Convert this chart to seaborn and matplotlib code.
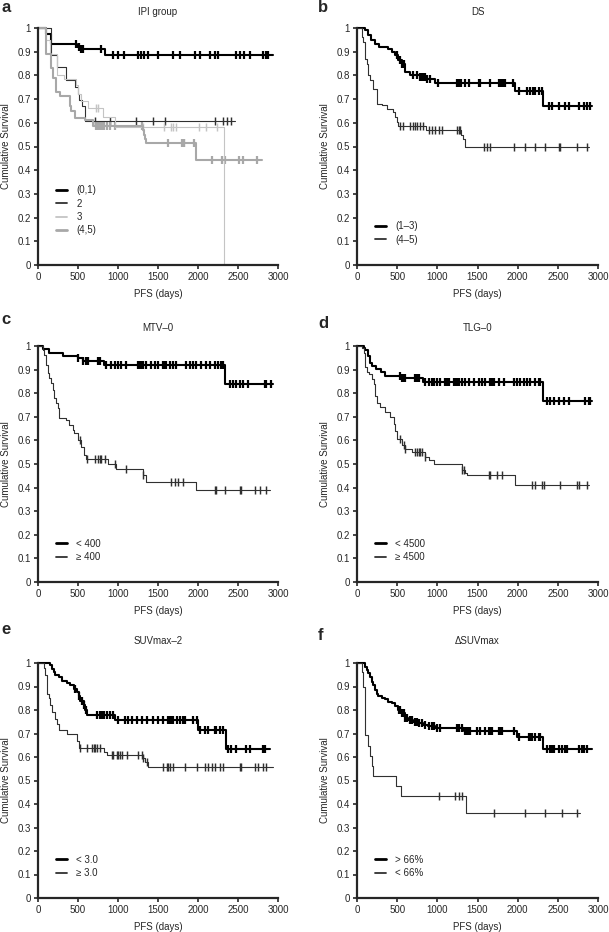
import numpy as np
import pandas as pd
import matplotlib
matplotlib.use("Agg")
import matplotlib.pyplot as plt
from matplotlib.lines import Line2D
import seaborn as sns

# ---- data (days, cumulative survival, censor times) ----
# a: IPI group
a1_t = [0, 105, 162, 490, 537, 840, 2940]
a1_s = [1.0, 0.975, 0.932, 0.92, 0.91, 0.884, 0.884]
a1_c = [480, 510, 540, 560, 790, 940, 1000, 1080, 1250, 1290, 1330, 1375, 1500, 1690, 1770,
        1960, 2020, 2150, 2210, 2250, 2480, 2520, 2580, 2650, 2810, 2850, 2880]
a2_t = [0, 165, 233, 345, 467, 500, 517, 545, 592, 2460]
a2_s = [1.0, 0.886, 0.835, 0.78, 0.75, 0.72, 0.696, 0.67, 0.607, 0.607]
a2_c = [710, 900, 1230, 1433, 1587, 2212, 2317, 2367, 2408]
a3_t = [0, 100, 150, 240, 330, 470, 500, 540, 625, 812, 958, 2330]
a3_s = [1.0, 0.95, 0.89, 0.80, 0.785, 0.76, 0.72, 0.69, 0.662, 0.624, 0.582, 0.0]
a3_c = [729, 750, 1310, 1575, 1658, 1692, 1725, 2017, 2100, 2233]
a4_t = [0, 104, 167, 188, 229, 271, 396, 417, 458, 583, 688, 1312, 1325, 1338, 1354, 1975, 2796]
a4_s = [1.0, 0.89, 0.83, 0.79, 0.73, 0.715, 0.67, 0.65, 0.62, 0.61, 0.587, 0.57, 0.55, 0.53,
        0.516, 0.443, 0.443]
a4_c = [729, 750, 770, 800, 830, 860, 900, 958, 1300, 1629, 1800, 1810, 1820, 1830, 1950,
        2171, 2296, 2337, 2517, 2558, 2742]

# b: DS
b1_t = [0, 104, 141, 175, 220, 280, 390, 430, 475, 515, 555, 600, 660, 785, 870, 975, 1970,
        2311, 2925]
b1_s = [1.0, 0.99, 0.969, 0.95, 0.934, 0.92, 0.913, 0.899, 0.885, 0.864, 0.85, 0.814, 0.80,
        0.793, 0.783, 0.769, 0.734, 0.671, 0.671]
b1_c = [494, 535, 556, 577, 590, 701, 742, 790, 810, 830, 850, 870, 908, 1012, 1245, 1265, 1290,
        1349, 1390, 1514, 1531, 1660, 1763, 1790, 1820, 1846, 1940, 2012, 2116, 2150, 2185, 2220,
        2261, 2303, 2386, 2427, 2510, 2593, 2635, 2759, 2821, 2863, 2904]
b2_t = [0, 58, 75, 100, 120, 141, 162, 203, 245, 307, 369, 452, 473, 494, 515, 860, 1290, 1323,
        1350, 2884]
b2_s = [1.0, 0.96, 0.94, 0.87, 0.85, 0.80, 0.78, 0.744, 0.68, 0.675, 0.657, 0.645, 0.624, 0.603,
        0.586, 0.568, 0.55, 0.53, 0.498, 0.498]
b2_c = [540, 577, 660, 701, 725, 750, 784, 826, 892, 934, 975, 1016, 1058, 1245, 1265, 1286, 1577,
        1618, 1660, 1950, 2095, 2220, 2344, 2510, 2531, 2738, 2863]

# c: MTV-0
c1_t = [0, 58, 142, 308, 496, 558, 829, 2333, 2937]
c1_s = [1.0, 0.986, 0.972, 0.958, 0.948, 0.938, 0.92, 0.839, 0.839]
c1_c = [500, 562, 604, 625, 750, 771, 854, 917, 958, 1000, 1042, 1104, 1250, 1270, 1290, 1312,
        1354, 1417, 1458, 1500, 1562, 1583, 1604, 1646, 1688, 1729, 1854, 1896, 1937, 1979, 2042,
        2104, 2146, 2208, 2250, 2292, 2312, 2396, 2437, 2479, 2521, 2563, 2625, 2833, 2854, 2917]
c2_t = [0, 62, 79, 100, 121, 142, 162, 183, 204, 225, 246, 267, 350, 392, 433, 454, 496, 537,
        579, 600, 880, 975, 1308, 1350, 1979, 2896]
c2_s = [1.0, 0.985, 0.96, 0.92, 0.884, 0.863, 0.842, 0.814, 0.778, 0.757, 0.736, 0.693, 0.686,
        0.665, 0.644, 0.63, 0.602, 0.573, 0.538, 0.52, 0.50, 0.477, 0.455, 0.424, 0.388, 0.388]
c2_c = [521, 612, 708, 750, 771, 792, 833, 958, 1104, 1312, 1667, 1708, 1750, 1812, 2208, 2229,
        2333, 2521, 2542, 2708, 2771, 2854]

# d: TLG-0
d1_t = [0, 83, 100, 133, 158, 187, 241, 303, 348, 560, 820, 2311, 2925]
d1_s = [1.0, 0.99, 0.982, 0.958, 0.93, 0.916, 0.902, 0.888, 0.874, 0.865, 0.846, 0.769, 0.769]
d1_c = [539, 560, 581, 602, 726, 747, 768, 851, 892, 933, 954, 996, 1037, 1100, 1120, 1140, 1203,
        1224, 1245, 1265, 1307, 1349, 1390, 1452, 1514, 1556, 1597, 1660, 1680, 1700, 1763, 1826,
        1950, 1991, 2033, 2074, 2116, 2157, 2220, 2261, 2282, 2365, 2406, 2448, 2510, 2572, 2635,
        2842, 2884, 2905]
d2_t = [0, 62, 83, 104, 124, 145, 187, 207, 228, 249, 290, 353, 415, 456, 477, 498, 560, 602,
        684, 851, 892, 954, 1307, 1340, 1369, 1971, 2884]
d2_s = [1.0, 0.99, 0.97, 0.91, 0.89, 0.88, 0.86, 0.84, 0.79, 0.76, 0.74, 0.72, 0.70, 0.67, 0.64,
        0.607, 0.58, 0.565, 0.551, 0.53, 0.515, 0.502, 0.475, 0.462, 0.452, 0.411, 0.411]
d2_c = [539, 581, 602, 726, 747, 768, 789, 810, 851, 1307, 1330, 1639, 1660, 1743, 1805, 2178,
        2220, 2303, 2324, 2531, 2738, 2759, 2863]

# e: SUVmax-2
e1_t = [0, 154, 175, 195, 216, 258, 299, 361, 403, 445, 486, 507, 528, 569, 590, 611, 964, 2003,
        2356, 2896]
e1_s = [1.0, 0.99, 0.975, 0.96, 0.95, 0.94, 0.925, 0.915, 0.905, 0.89, 0.875, 0.86, 0.84, 0.82,
        0.80, 0.78, 0.756, 0.716, 0.635, 0.635]
e1_c = [465, 507, 548, 569, 600, 735, 777, 798, 819, 860, 902, 943, 1006, 1089, 1130, 1172, 1234,
        1296, 1359, 1442, 1504, 1566, 1629, 1650, 1670, 1691, 1733, 1774, 1816, 1837, 1940, 1990,
        2024, 2086, 2127, 2210, 2231, 2273, 2314, 2377, 2418, 2481, 2605, 2647, 2813, 2834]
e2_t = [0, 71, 91, 112, 133, 154, 175, 216, 237, 258, 361, 486, 507, 819, 860, 1317, 1338, 1380,
        2938]
e2_s = [1.0, 0.98, 0.95, 0.87, 0.85, 0.82, 0.79, 0.76, 0.74, 0.715, 0.70, 0.67, 0.638, 0.62, 0.61,
        0.595, 0.579, 0.556, 0.556]
e2_c = [528, 611, 673, 694, 715, 735, 777, 922, 943, 985, 1006, 1027, 1047, 1109, 1255, 1296,
        1317, 1359, 1566, 1608, 1629, 1650, 1691, 1837, 1982, 2086, 2127, 2169, 2210, 2273, 2314,
        2522, 2543, 2709, 2751, 2813, 2855]

# f: delta SUVmax
f1_t = [0, 100, 120, 141, 162, 183, 203, 224, 245, 266, 307, 349, 390, 432, 473, 515, 556, 598,
        639, 701, 763, 825, 887, 970, 1330, 1991, 2311, 2925]
f1_s = [1.0, 0.985, 0.97, 0.956, 0.942, 0.92, 0.907, 0.886, 0.87, 0.86, 0.852, 0.845, 0.836,
        0.829, 0.815, 0.80, 0.787, 0.766, 0.758, 0.75, 0.744, 0.737, 0.73, 0.722, 0.71, 0.685,
        0.633, 0.633]
f1_c = [519, 539, 560, 581, 602, 622, 664, 684, 726, 747, 768, 809, 851, 892, 934, 955, 996, 1037,
        1245, 1265, 1307, 1349, 1369, 1390, 1411, 1494, 1535, 1597, 1639, 1660, 1680, 1763, 1784,
        1805, 1950, 2012, 2137, 2158, 2178, 2220, 2261, 2282, 2365, 2407, 2427, 2448, 2510, 2552,
        2593, 2614, 2759, 2801, 2822, 2863]
f2_t = [0, 58, 75, 100, 141, 162, 183, 203, 485, 552, 1361, 2780]
f2_s = [1.0, 0.96, 0.90, 0.695, 0.646, 0.603, 0.56, 0.518, 0.476, 0.434, 0.362, 0.362]
f2_c = [1016, 1224, 1265, 1310, 1701, 2095, 2345, 2550, 2740]

titles = ["IPI group", "DS", "MTV\u20130", "TLG\u20130", "SUVmax\u20132", "\u0394SUVmax"]
letters = ["a", "b", "c", "d", "e", "f"]
labels_a = ["(0,1)", "2", "3", "(4,5)"]
labels_b = ["(1\u20133)", "(4\u20135)"]
labels_c = ["< 400", "\u2265 400"]
labels_d = ["< 4500", "\u2265 4500"]
labels_e = ["< 3.0", "\u2265 3.0"]
labels_f = ["> 66%", "< 66%"]
xticks = [0, 500, 1000, 1500, 2000, 2500, 3000]
yticks = [0, 0.1, 0.2, 0.3, 0.4, 0.5, 0.6, 0.7, 0.8, 0.9, 1.0]
ytick_labels = ["0", "0.1", "0.2", "0.3", "0.4", "0.5", "0.6", "0.7", "0.8", "0.9", "1"]

# ---- styles ----
THICK = ("#000000", 1.5)
THIN = ("#303030", 0.8)

sns.set_style("ticks")
plt.rcParams["font.family"] = ["Liberation Sans", "DejaVu Sans"]
plt.rcParams["font.size"] = 7

W, H = 609, 932
fig = plt.figure(figsize=(W / 100, H / 100), dpi=100)

col_x = [(38, 278), (357, 598)]
row_y = [(28, 265), (346, 582), (663, 898)]
title_y = [12, 328, 641]
letter_pos = [(1, 8), (318, 8), (1, 320), (318, 323), (1, 630), (318, 635)]


def km_panel(ax, curves, labels, leg_anchor):
    frames = []
    for i, (t, s, c, col, lw) in enumerate(curves):
        frames.append(pd.DataFrame({"days": t, "surv": s, "group": labels[i]}))
    df = pd.concat(frames, ignore_index=True)
    pal = {labels[i]: cv[3] for i, cv in enumerate(curves)}
    sizes = {labels[i]: cv[4] for i, cv in enumerate(curves)}
    sns.lineplot(data=df, x="days", y="surv", hue="group", size="group", palette=pal,
                 sizes=sizes, estimator=None, sort=False, drawstyle="steps-post",
                 legend=False, clip_on=False, ax=ax)
    for i, (t, s, c, col, lw) in enumerate(curves):
        t = np.asarray(t)
        s = np.asarray(s)
        cy = s[np.searchsorted(t, c, side="right") - 1]
        sns.scatterplot(x=c, y=cy, marker="|", s=28, linewidth=lw * 0.8 + 0.4,
                        color=col, legend=False, clip_on=False, ax=ax)
    handles = [Line2D([], [], color=cv[3], lw=cv[4] + 0.5) for cv in curves]
    ax.legend(handles, labels, loc="lower left", bbox_to_anchor=leg_anchor, frameon=False,
              fontsize=7, handlelength=1.1, handletextpad=1.0, labelspacing=0.35,
              borderaxespad=0, borderpad=0)


panels = [
    ([(a1_t, a1_s, a1_c, "#000000", 1.5), (a2_t, a2_s, a2_c, "#303030", 0.8),
      (a3_t, a3_s, a3_c, "#c4c4c4", 0.8), (a4_t, a4_s, a4_c, "#a8a8a8", 1.5)],
     labels_a, (0.075, 0.125)),
    ([(b1_t, b1_s, b1_c) + THICK, (b2_t, b2_s, b2_c) + THIN], labels_b, (0.075, 0.085)),
    ([(c1_t, c1_s, c1_c) + THICK, (c2_t, c2_s, c2_c) + THIN], labels_c, (0.075, 0.085)),
    ([(d1_t, d1_s, d1_c) + THICK, (d2_t, d2_s, d2_c) + THIN], labels_d, (0.075, 0.085)),
    ([(e1_t, e1_s, e1_c) + THICK, (e2_t, e2_s, e2_c) + THIN], labels_e, (0.075, 0.085)),
    ([(f1_t, f1_s, f1_c) + THICK, (f2_t, f2_s, f2_c) + THIN], labels_f, (0.075, 0.085)),
]

for k, (curves, labels, anchor) in enumerate(panels):
    r, cidx = divmod(k, 2)
    x0, x1 = col_x[cidx]
    y0, y1 = row_y[r]
    ax = fig.add_axes([x0 / W, 1 - y1 / H, (x1 - x0) / W, (y1 - y0) / H])
    km_panel(ax, curves, labels, anchor)
    ax.set_xlim(0, 3000)
    ax.set_ylim(0, 1)
    ax.set_xticks(xticks)
    ax.set_yticks(yticks)
    ax.set_yticklabels(ytick_labels)
    ax.tick_params(direction="out", length=3, width=1.2, pad=2, labelsize=7)
    for sp in ("left", "bottom"):
        ax.spines[sp].set_linewidth(1.6)
    sns.despine(ax=ax)
    ax.set_xlabel("PFS (days)", fontsize=7, labelpad=5)
    ax.set_ylabel("Cumulative Survival", fontsize=7, labelpad=5)
    fig.text((x0 + x1) / 2 / W, 1 - title_y[r] / H, titles[k], ha="center", va="center",
             fontsize=7)
    lx, ly = letter_pos[k]
    fig.text(lx / W, 1 - ly / H, letters[k], ha="left", va="center", fontsize=12,
             fontweight="bold")

fig.savefig("out.png", dpi=100)
